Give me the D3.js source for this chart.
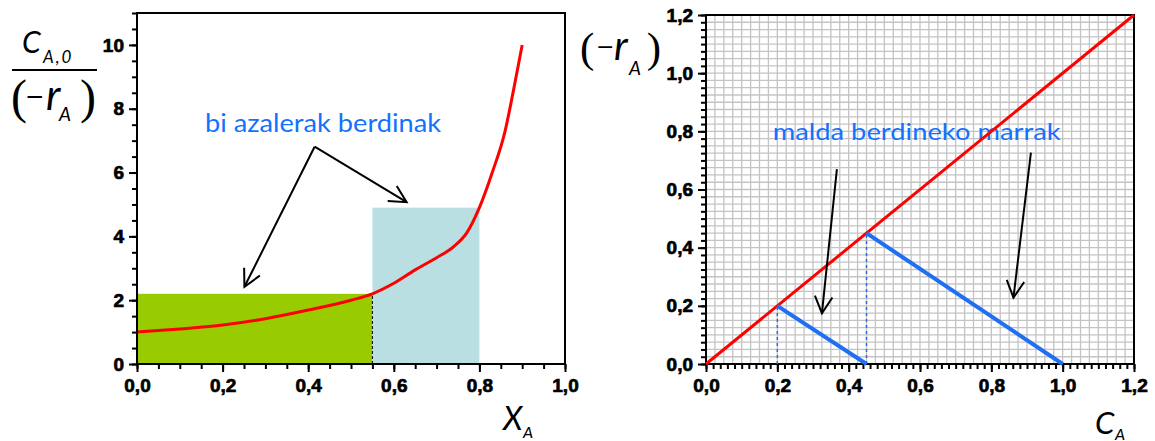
<!DOCTYPE html>
<html>
<head>
<meta charset="utf-8">
<script src="https://cdn.jsdelivr.net/npm/d3@7"></script>
<style>
  body { margin: 0; background: #fff; }
  .tick text { font-family: "Liberation Sans", Arial, sans-serif; font-size: 19px; font-weight: 700; }
</style>
</head>
<body>
<svg id="chart" font-family="Lato, 'Open Sans', sans-serif"></svg>
<script>
// Levenspiel plot (left): CA0/(-rA) against XA
var xaValues = [0, 0.1, 0.2, 0.3, 0.4, 0.5, 0.55, 0.6, 0.65, 0.7, 0.74, 0.77, 0.8, 0.83, 0.86, 0.88, 0.9]
var ratioValues = [1.0, 1.1, 1.22, 1.42, 1.69, 2.0, 2.2, 2.53, 2.95, 3.33, 3.68, 4.1, 4.9, 6.0, 7.3, 8.6, 10.0]

// the two equal areas (green = first reactor, blue = second)
var areaX0 = [0, 0.55]
var areaX1 = [0.55, 0.8]
var areaTop = [2.2, 4.9]

// rate line (right): (-rA) = CA, and the operating lines of equal slope
var rateCA = [0, 1.2]
var opStartCA = [0.2, 0.45]
var opEndCA = [0.45, 1.0]

// annotation arrows, data coords [x, y]
var leftArrowFrom = [[0.415, 6.81], [0.415, 6.81]]
var leftArrowTo = [[0.251, 2.42], [0.63, 5.07]]
var rightArrowFrom = [[0.367, 0.67], [0.911, 0.727]]
var rightArrowTo = [[0.325, 0.174], [0.862, 0.228]]

var width = 1155
var height = 441
var blueText = "#1272ff"
var blueLine = "#1f6ff5"

var svg = d3.select("#chart").attr("width", width).attr("height", height)

var xL = d3.scaleLinear().domain([0, 1]).range([137, 565])
var yL = d3.scaleLinear().domain([0, 11]).range([364, 13])
var xR = d3.scaleLinear().domain([0, 1.2]).range([706, 1134])
var yR = d3.scaleLinear().domain([0, 1.2]).range([364, 15])

var comma = d => d3.format(".1f")(d).replace(".", ",")

function axes(g, x, y, xMinor, xMajor, yMinor, yMajor, yFmt) {
  var bottom = y.range()[0], left = x.range()[0]
  g.append("g").attr("transform", `translate(0,${bottom})`)
    .call(d3.axisBottom(x).tickValues(xMinor).tickSize(5).tickFormat(""))
  g.append("g").attr("transform", `translate(0,${bottom})`)
    .call(d3.axisBottom(x).tickValues(xMajor).tickSize(8).tickPadding(7).tickFormat(comma))
  g.append("g").attr("transform", `translate(${left},0)`)
    .call(d3.axisLeft(y).tickValues(yMinor).tickSize(5).tickFormat(""))
  g.append("g").attr("transform", `translate(${left},0)`)
    .call(d3.axisLeft(y).tickValues(yMajor).tickSize(8).tickPadding(5).tickFormat(yFmt))
  g.selectAll(".domain").remove()
  g.selectAll(".tick line").attr("stroke", "#000").attr("stroke-width", 2)
  g.selectAll(".tick text")
    .attr("fill", "#000")
    .attr("stroke", "#000").attr("stroke-width", 0.7)
  g.append("rect")
    .attr("x", x.range()[0]).attr("y", y.range()[1])
    .attr("width", x.range()[1] - x.range()[0])
    .attr("height", y.range()[0] - y.range()[1])
    .attr("fill", "none").attr("stroke", "#000").attr("stroke-width", 2)
}

function arrow(g, p0, p1) {
  var a = Math.atan2(p1[1] - p0[1], p1[0] - p0[0])
  var L = 19, t = 0.48
  g.append("line")
    .attr("x1", p0[0]).attr("y1", p0[1]).attr("x2", p1[0]).attr("y2", p1[1])
  g.append("path")
    .attr("d", "M" + (p1[0] - L * Math.cos(a - t)) + "," + (p1[1] - L * Math.sin(a - t)) +
      "L" + p1[0] + "," + p1[1] +
      "L" + (p1[0] - L * Math.cos(a + t)) + "," + (p1[1] - L * Math.sin(a + t)))
    .attr("fill", "none")
}

//
// left panel
//
var gL = svg.append("g")

gL.selectAll("rect.area")
  .data(areaX0)
  .join("rect")
  .attr("class", "area")
  .attr("x", d => xL(d))
  .attr("y", (d, i) => yL(areaTop[i]))
  .attr("width", (d, i) => xL(areaX1[i]) - xL(d))
  .attr("height", (d, i) => yL(0) - yL(areaTop[i]))
  .attr("fill", (d, i) => i == 0 ? "#99cc00" : "#b9dfe3")

gL.append("line")
  .attr("x1", xL(areaX1[0])).attr("x2", xL(areaX1[0]))
  .attr("y1", yL(0)).attr("y2", yL(areaTop[0]))
  .attr("stroke", "#000").attr("stroke-width", 1).attr("stroke-dasharray", "3,2")

gL.append("path")
  .datum(xaValues.map((d, i) => [d, ratioValues[i]]))
  .attr("d", d3.line().x(d => xL(d[0])).y(d => yL(d[1])).curve(d3.curveMonotoneX))
  .attr("fill", "none").attr("stroke", "#ff0000").attr("stroke-width", 3)

axes(gL, xL, yL, d3.range(0, 21).map(i => i / 20), d3.range(0, 6).map(i => i / 5),
  d3.range(0, 23).map(i => i / 2), [0, 2, 4, 6, 8, 10], d3.format("d"))

var arrL = gL.append("g").attr("stroke", "#000").attr("stroke-width", 2)
leftArrowFrom.forEach((p, i) => arrow(arrL,
  [xL(p[0]), yL(p[1])], [xL(leftArrowTo[i][0]), yL(leftArrowTo[i][1])]))

gL.append("text")
  .attr("x", xL(0.159)).attr("y", yL(7.28))
  .attr("fill", blueText).attr("font-size", 25)
  .attr("textLength", 236).attr("lengthAdjust", "spacingAndGlyphs")
  .text("bi azalerak berdinak")

// y title: CA,0 / (-rA)
var serif = "'Liberation Serif', serif"
var tL = gL.append("g")
tL.append("text").attr("x", 22).attr("y", 53)
  .attr("font-style", "italic").attr("font-size", 30).text("C")
tL.append("text").attr("x", 43).attr("y", 63)
  .attr("font-style", "italic").attr("font-size", 17).attr("letter-spacing", 2).text("A,0")
tL.append("line").attr("x1", 12).attr("x2", 97).attr("y1", 70).attr("y2", 70)
  .attr("stroke", "#000").attr("stroke-width", 2)
tL.append("text").attr("x", 11).attr("y", 113)
  .attr("font-family", serif).attr("font-size", 48).text("(")
tL.append("text").attr("x", 96).attr("y", 113).attr("text-anchor", "end")
  .attr("font-family", serif).attr("font-size", 48).text(")")
tL.append("text").attr("x", 25).attr("y", 104)
  .attr("font-family", "'DejaVu Sans', sans-serif").attr("font-size", 23).text("\u2212")
tL.append("text").attr("x", 46).attr("y", 110)
  .attr("font-style", "italic").attr("font-size", 42).text("r")
tL.append("text").attr("x", 59).attr("y", 121)
  .attr("font-style", "italic").attr("font-size", 19).text("A")

// x title
gL.append("text").attr("x", 503).attr("y", 430)
  .attr("font-style", "italic").attr("font-size", 32).text("X")
gL.append("text").attr("x", 523).attr("y", 438)
  .attr("font-style", "italic").attr("font-size", 16).text("A")

//
// right panel
//
var gR = svg.append("g")

var gridStep = d3.range(0, 49).map(i => i / 40)
gR.append("g").attr("stroke", "#c4c4c4").attr("stroke-width", 1.3)
  .call(g => g.selectAll("line.v").data(gridStep).join("line").attr("class", "v")
    .attr("x1", d => xR(d)).attr("x2", d => xR(d)).attr("y1", yR(0)).attr("y2", yR(1.2)))
  .call(g => g.selectAll("line.h").data(gridStep).join("line").attr("class", "h")
    .attr("y1", d => yR(d)).attr("y2", d => yR(d)).attr("x1", xR(0)).attr("x2", xR(1.2)))

axes(gR, xR, yR, d3.range(0, 61).map(i => i / 50), d3.range(0, 7).map(i => i / 5),
  d3.range(0, 49).map(i => i / 40), d3.range(0, 7).map(i => i / 5), comma)

gR.append("text")
  .attr("x", xR(0.187)).attr("y", yR(0.77))
  .attr("fill", blueText).attr("font-size", 24)
  .attr("textLength", 288).attr("lengthAdjust", "spacingAndGlyphs")
  .text("malda berdineko marrak")

gR.append("line")
  .attr("x1", xR(rateCA[0])).attr("y1", yR(rateCA[0]))
  .attr("x2", xR(rateCA[1])).attr("y2", yR(rateCA[1]))
  .attr("stroke", "#ff0000").attr("stroke-width", 3)

gR.selectAll("line.drop")
  .data(opStartCA)
  .join("line")
  .attr("class", "drop")
  .attr("x1", d => xR(d)).attr("x2", d => xR(d))
  .attr("y1", yR(0)).attr("y2", d => yR(d))
  .attr("stroke", blueLine).attr("stroke-width", 1.5).attr("stroke-dasharray", "3,3")

gR.selectAll("line.op")
  .data(opStartCA)
  .join("line")
  .attr("class", "op")
  .attr("x1", d => xR(d)).attr("y1", d => yR(d))
  .attr("x2", (d, i) => xR(opEndCA[i])).attr("y2", yR(0))
  .attr("stroke", blueLine).attr("stroke-width", 4)

var arrR = gR.append("g").attr("stroke", "#000").attr("stroke-width", 2)
rightArrowFrom.forEach((p, i) => arrow(arrR,
  [xR(p[0]), yR(p[1])], [xR(rightArrowTo[i][0]), yR(rightArrowTo[i][1])]))

// y title (-rA)
var tR = gR.append("g")
tR.append("text").attr("x", 580).attr("y", 62)
  .attr("font-family", serif).attr("font-size", 43).text("(")
tR.append("text").attr("x", 661).attr("y", 62).attr("text-anchor", "end")
  .attr("font-family", serif).attr("font-size", 43).text(")")
tR.append("text").attr("x", 596).attr("y", 54)
  .attr("font-family", "'DejaVu Sans', sans-serif").attr("font-size", 22).text("\u2212")
tR.append("text").attr("x", 614).attr("y", 60)
  .attr("font-style", "italic").attr("font-size", 40).text("r")
tR.append("text").attr("x", 629).attr("y", 75)
  .attr("font-style", "italic").attr("font-size", 19).text("A")

// x title
gR.append("text").attr("x", 1095).attr("y", 434)
  .attr("font-style", "italic").attr("font-size", 31).text("C")
gR.append("text").attr("x", 1115).attr("y", 440)
  .attr("font-style", "italic").attr("font-size", 16).text("A")
</script>
</body>
</html>
